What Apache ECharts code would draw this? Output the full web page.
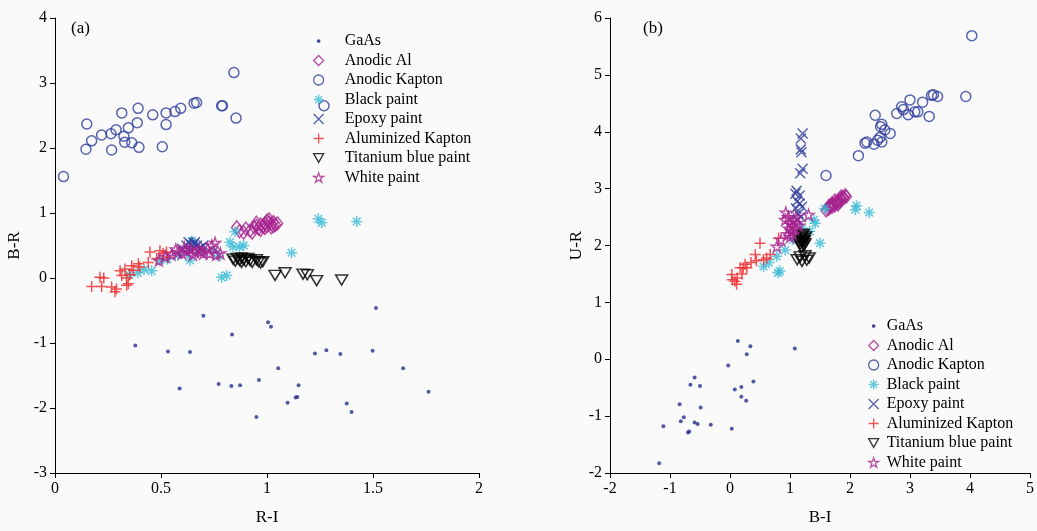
<!DOCTYPE html>
<html><head><meta charset="utf-8">
<script src="https://cdn.jsdelivr.net/npm/echarts@6/dist/echarts.min.js"></script>
<style>html,body{margin:0;padding:0;background:#fafafa}#c{width:1037px;height:531px}</style>
</head><body><div id="c"></div>
<script>
// ---------- DATA ----------
const seriesNames = ['GaAs','Anodic Al','Anodic Kapton','Black paint','Epoxy paint','Aluminized Kapton','Titanium blue paint','White paint'];
const xTicksA = [0,0.5,1,1.5,2];
const yTicksA = [-3,-2,-1,0,1,2,3,4];
const xTicksB = [-2,-1,0,1,2,3,4,5];
const yTicksB = [-2,-1,0,1,2,3,4,5,6];

// Panel (a): R-I vs B-R
const gaasA = [[0.379,-1.04],[0.533,-1.13],[0.637,-1.14],[0.700,-0.58],[0.588,-1.70],[0.772,-1.63],[0.832,-1.66],[0.873,-1.65],[0.835,-0.87],[0.950,-2.14],[0.962,-1.57],[1.005,-0.68],[1.019,-0.75],[1.053,-1.39],[1.097,-1.92],[1.135,-1.84],[1.143,-1.83],[1.149,-1.65],[1.226,-1.16],[1.280,-1.11],[1.346,-1.17],[1.376,-1.93],[1.399,-2.06],[1.498,-1.12],[1.514,-0.46],[1.642,-1.39],[1.762,-1.75]];
const anodicAlA = [[0.857,0.78],[0.87,0.72],[0.89,0.70],[0.90,0.76],[0.92,0.73],[0.93,0.70],[0.94,0.78],[0.95,0.80],[0.96,0.76],[0.97,0.82],[0.98,0.79],[0.99,0.84],[1.00,0.88],[1.00,0.80],[1.01,0.85],[1.02,0.83],[1.02,0.78],[1.03,0.86],[1.04,0.82],[1.05,0.84],[0.97,0.74],[0.99,0.77],[1.01,0.90],[0.95,0.85],[1.03,0.80]];
const anodicKaptonA = [[0.04,1.56],[0.15,2.37],[0.146,1.98],[0.173,2.11],[0.22,2.20],[0.267,1.97],[0.264,2.22],[0.288,2.28],[0.315,2.54],[0.325,2.18],[0.329,2.09],[0.346,2.31],[0.362,2.08],[0.388,2.39],[0.392,2.61],[0.396,2.01],[0.461,2.51],[0.506,2.02],[0.524,2.54],[0.524,2.36],[0.566,2.56],[0.593,2.61],[0.656,2.69],[0.668,2.70],[0.786,2.65],[0.79,2.65],[0.844,3.16],[0.854,2.46],[1.269,2.65]];
const blackPaintA = [[0.39,0.08],[0.456,0.11],[0.495,0.27],[0.53,0.29],[0.637,0.27],[0.645,0.57],[0.77,0.34],[0.786,0.01],[0.81,0.04],[0.825,0.55],[0.84,0.48],[0.849,0.71],[0.87,0.48],[0.89,0.50],[1.116,0.39],[1.242,0.91],[1.258,0.85],[1.423,0.87],[0.58,0.35],[0.42,0.13],[0.35,0.05],[0.70,0.40],[0.75,0.42]];
const epoxyA = [[0.60,0.45],[0.62,0.50],[0.63,0.55],[0.64,0.52],[0.65,0.48],[0.66,0.55],[0.67,0.50],[0.68,0.45],[0.64,0.42],[0.70,0.50],[0.61,0.40],[0.655,0.53],[0.69,0.47]];
const alKaptonA = [[0.173,-0.13],[0.22,-0.13],[0.212,0.01],[0.23,0.0],[0.267,-0.14],[0.283,-0.21],[0.29,-0.17],[0.307,0.11],[0.315,0.04],[0.33,0.14],[0.338,0.0],[0.346,-0.09],[0.354,0.05],[0.362,0.19],[0.37,0.12],[0.338,-0.11],[0.393,0.22],[0.40,0.17],[0.44,0.24],[0.448,0.40],[0.48,0.30],[0.495,0.42],[0.51,0.38],[0.526,0.40],[0.53,0.32]];
const titaniumA = [[0.84,0.29],[0.86,0.30],[0.87,0.27],[0.88,0.31],[0.89,0.28],[0.90,0.25],[0.91,0.30],[0.92,0.27],[0.93,0.24],[0.95,0.28],[0.96,0.25],[0.97,0.23],[0.98,0.25],[0.88,0.24],[0.85,0.26],[1.038,0.04],[1.085,0.08],[1.17,0.06],[1.19,0.05],[1.234,-0.04],[1.352,-0.03]];
const whitePaintA = [[0.49,0.27],[0.52,0.33],[0.55,0.36],[0.58,0.40],[0.60,0.38],[0.62,0.43],[0.64,0.45],[0.66,0.40],[0.68,0.43],[0.70,0.38],[0.72,0.45],[0.73,0.38],[0.74,0.50],[0.76,0.36],[0.755,0.54],[0.78,0.38],[0.57,0.44],[0.61,0.47],[0.65,0.36],[0.69,0.41]];

// Panel (b): B-I vs U-R
const gaasB = [[-1.18,-1.83],[-1.11,-1.18],[-0.84,-0.79],[-0.82,-1.09],[-0.77,-1.02],[-0.70,-1.29],[-0.68,-1.27],[-0.66,-0.45],[-0.59,-0.32],[-0.59,-1.11],[-0.54,-1.14],[-0.50,-0.47],[-0.49,-0.85],[-0.32,-1.15],[-0.03,-0.11],[0.03,-1.22],[0.08,-0.53],[0.13,0.32],[0.19,-0.66],[0.19,-0.49],[0.27,-0.73],[0.28,0.09],[0.34,0.23],[0.39,-0.39],[1.08,0.19]];
const anodicAlB = [[1.60,2.62],[1.63,2.64],[1.66,2.66],[1.68,2.70],[1.70,2.68],[1.72,2.72],[1.74,2.70],[1.76,2.75],[1.78,2.74],[1.80,2.78],[1.82,2.76],[1.84,2.82],[1.86,2.80],[1.88,2.85],[1.90,2.84],[1.92,2.88],[1.94,2.86],[1.70,2.74],[1.75,2.79],[1.85,2.86],[1.65,2.70],[1.80,2.72]];
const anodicKaptonB = [[4.03,5.69],[3.93,4.62],[3.46,4.62],[3.39,4.65],[3.36,4.64],[3.32,4.27],[3.21,4.52],[3.00,4.56],[2.86,4.44],[2.78,4.32],[2.97,4.30],[3.08,4.35],[3.13,4.35],[2.89,4.39],[2.42,4.29],[2.53,4.13],[2.51,4.09],[2.58,4.03],[2.67,3.97],[2.53,3.82],[2.46,3.85],[2.40,3.78],[2.28,3.82],[2.25,3.80],[2.50,3.90],[2.14,3.58],[1.60,3.23]];
const blackPaintB = [[1.58,2.65],[2.11,2.70],[2.09,2.63],[2.32,2.58],[1.42,2.39],[1.50,2.04],[1.33,2.25],[0.92,1.92],[0.83,1.55],[0.80,1.52],[0.56,1.63],[0.78,1.81],[1.05,2.10],[1.20,2.30],[0.65,1.70],[1.40,2.45]];
const epoxyB = [[1.21,3.97],[1.18,3.88],[1.18,3.69],[1.19,3.64],[1.21,3.35],[1.17,3.27],[1.11,2.96],[1.09,2.91],[1.16,2.88],[1.12,2.78],[1.16,2.74],[1.20,2.68],[1.10,2.65],[1.14,2.56],[1.18,2.50],[1.12,2.45]];
const alKaptonB = [[0.03,1.49],[0.04,1.40],[0.08,1.37],[0.11,1.32],[0.12,1.43],[0.17,1.61],[0.22,1.61],[0.25,1.67],[0.28,1.61],[0.42,1.84],[0.50,2.04],[0.56,1.75],[0.61,1.78],[0.67,1.84],[0.81,2.13],[0.44,1.73],[0.35,1.70],[0.20,1.50]];
const titaniumB = [[1.15,2.15],[1.18,2.10],[1.20,2.05],[1.22,2.12],[1.24,2.08],[1.20,2.18],[1.17,2.02],[1.23,2.00],[1.26,2.15],[1.19,1.97],[1.22,2.20],[1.16,2.07],[1.25,2.03],[1.21,2.09],[1.12,1.75],[1.20,1.72],[1.28,1.74],[1.17,1.80],[1.25,1.82],[1.32,1.78]];
const whitePaintB = [[0.78,1.98],[0.85,2.10],[0.92,2.45],[0.93,2.58],[0.96,2.20],[0.98,2.30],[1.00,2.40],[1.02,2.25],[1.04,2.35],[1.06,2.45],[1.08,2.30],[1.10,2.50],[1.00,2.15],[1.05,2.20],[1.12,2.40],[1.31,2.54],[0.97,2.50],[1.15,2.35]];

// ---------- STYLE ----------
const FONT = 'Liberation Serif';
const NAVY = '#27318f', BLUE = '#2e3d9e', MAG = '#a8238e', CYAN = '#3cbcd6', RED = '#f0282a';
const SYM = {
  plus: 'path://M0,5L10,5M5,0L5,10',
  cross: 'path://M0,0L10,10M0,10L10,0',
  aster: 'path://M5,0L5,10M0,5L10,5M1.5,1.5L8.5,8.5M1.5,8.5L8.5,1.5',
  tri: 'path://M0,0L10,0L5,8.66Z',
  star: 'path://M5,0L6.2,3.6L10,3.6L6.9,5.8L8.1,9.5L5,7.2L1.9,9.5L3.1,5.8L0,3.6L3.8,3.6Z'
};
const SW = 1.5;
const styles = {
  'GaAs': {symbol:'circle', size:4, item:{color:NAVY, borderColor:NAVY, borderWidth:0}},
  'Anodic Al': {symbol:'diamond', size:[10,13], item:{color:'rgba(0,0,0,0)', borderColor:MAG, borderWidth:SW}},
  'Anodic Kapton': {symbol:'circle', size:10, item:{color:'rgba(0,0,0,0)', borderColor:BLUE, borderWidth:SW}},
  'Black paint': {symbol:SYM.aster, size:11, item:{color:'rgba(0,0,0,0)', borderColor:CYAN, borderWidth:SW}},
  'Epoxy paint': {symbol:SYM.cross, size:10, item:{color:'rgba(0,0,0,0)', borderColor:BLUE, borderWidth:SW}},
  'Aluminized Kapton': {symbol:SYM.plus, size:11, item:{color:'rgba(0,0,0,0)', borderColor:RED, borderWidth:SW}},
  'Titanium blue paint': {symbol:SYM.tri, size:[12,10], item:{color:'rgba(0,0,0,0)', borderColor:'#000', borderWidth:SW}},
  'White paint': {symbol:SYM.star, size:11, item:{color:'rgba(0,0,0,0)', borderColor:MAG, borderWidth:1.4}}
};
const dataA = [gaasA, anodicAlA, anodicKaptonA, blackPaintA, epoxyA, alKaptonA, titaniumA, whitePaintA];
const dataB = [gaasB, anodicAlB, anodicKaptonB, blackPaintB, epoxyB, alKaptonB, titaniumB, whitePaintB];

function mkSeries(data, idx) {
  return seriesNames.map((n, i) => ({
    name: n, type: 'scatter', xAxisIndex: idx, yAxisIndex: idx,
    symbol: styles[n].symbol, symbolSize: styles[n].size,
    itemStyle: styles[n].item, data: data[i], animation: false, silent: true
  }));
}
const axisCommon = {
  axisLine: {onZero: false, lineStyle: {color: '#000', width: 1}},
  axisTick: {show: true, inside: false, length: 5, lineStyle: {color: '#000'}},
  axisLabel: {color: '#000', fontFamily: FONT, fontSize: 16},
  splitLine: {show: false},
  nameTextStyle: {color: '#000', fontFamily: FONT, fontSize: 17},
  nameLocation: 'middle'
};
const legendData = seriesNames.map(n => n === 'GaAs'
  ? {name: n, icon: 'path://M0,0M10,10M3.8,5A1.2,1.2,0,1,0,6.2,5A1.2,1.2,0,1,0,3.8,5Z'}
  : {name: n});
const legendCommon = {
  orient: 'vertical', itemWidth: 10, itemHeight: 10, itemGap: 3.5,
  data: legendData, selectedMode: false,
  itemStyle: {borderWidth: 1.3},
  textStyle: {fontFamily: FONT, fontSize: 16, color: '#000', lineHeight: 14}
};

const chart = echarts.init(document.getElementById('c'), null, {renderer: 'canvas'});
chart.setOption({
  backgroundColor: '#fafafa',
  animation: false,
  title: [
    {text: '(a)', left: 66, top: 15, textStyle: {fontFamily: FONT, fontSize: 17, fontWeight: 'normal', color: '#000'}},
    {text: '(b)', left: 638, top: 15, textStyle: {fontFamily: FONT, fontSize: 17, fontWeight: 'normal', color: '#000'}}
  ],
  grid: [
    {left: 55, right: 1037 - 479, top: 18, bottom: 531 - 475},
    {left: 610, right: 1037 - 1030, top: 18, bottom: 531 - 476}
  ],
  xAxis: [
    Object.assign({}, axisCommon, {gridIndex: 0, type: 'value', min: xTicksA[0], max: xTicksA[xTicksA.length-1], interval: 0.5, name: 'R-I', nameGap: 36}),
    Object.assign({}, axisCommon, {gridIndex: 1, type: 'value', min: xTicksB[0], max: xTicksB[xTicksB.length-1], interval: 1, name: 'B-I', nameGap: 36})
  ],
  yAxis: [
    Object.assign({}, axisCommon, {gridIndex: 0, type: 'value', min: yTicksA[0], max: yTicksA[yTicksA.length-1], interval: 1, name: 'B-R', nameGap: 32}),
    Object.assign({}, axisCommon, {gridIndex: 1, type: 'value', min: yTicksB[0], max: yTicksB[yTicksB.length-1], interval: 1, name: 'U-R', nameGap: 24})
  ],
  legend: [
    Object.assign({}, legendCommon, {left: 308, top: 28, textStyle: Object.assign({}, legendCommon.textStyle, {padding: [0,0,0,16]})}),
    Object.assign({}, legendCommon, {left: 863, top: 313, textStyle: Object.assign({}, legendCommon.textStyle, {padding: [0,0,0,3]})})
  ],
  series: mkSeries(dataA, 0).concat(mkSeries(dataB, 1))
});
</script></body></html>
